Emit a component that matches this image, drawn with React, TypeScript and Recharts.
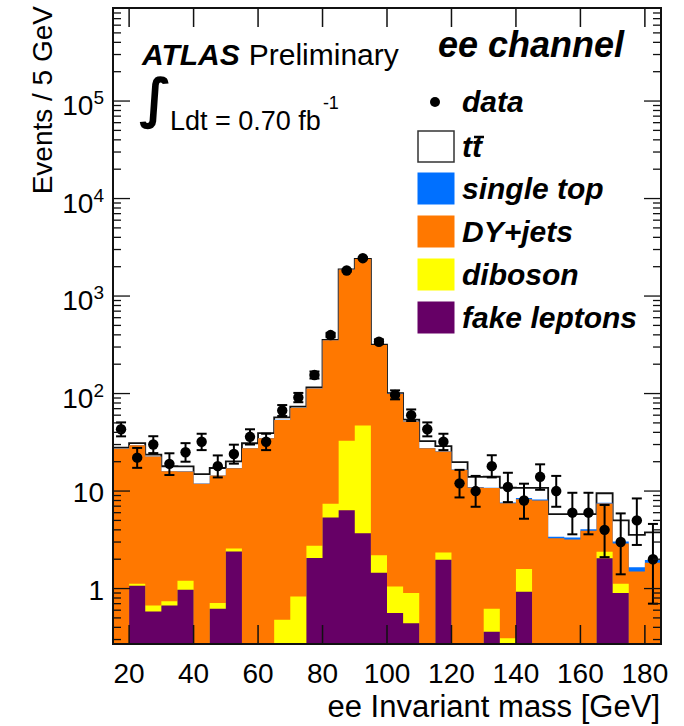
import React from "react";
import { ComposedChart, Area, Scatter, ErrorBar, XAxis, YAxis } from "recharts";

// ---- data (5 GeV bins, 15-185 GeV) ----
const binLow = [15, 20, 25, 30, 35, 40, 45, 50, 55, 60, 65, 70, 75, 80, 85, 90, 95, 100, 105, 110, 115, 120, 125, 130, 135, 140, 145, 150, 155, 160, 165, 170, 175, 180];
const binHighEnd = 185;

const fakeLeptons = [0, 1.07, 0.58, 0.67, 0.97, 0, 0.62, 2.4, 0, 0, 0, 0, 2.06, 5.34, 6.35, 3.7, 1.45, 0.56, 0.44, 0, 1.98, 0, 0, 0.36, 0, 0.93, 0, 0, 0, 0, 2.04, 0.9, 0, 0];
const diboson = [0, 0.05, 0.09, 0.07, 0.23, 0, 0.09, 0.18, 0, 0, 0.48, 0.83, 0.69, 2.06, 26.45, 43.3, 0.75, 0.49, 0.46, 0, 0.37, 0, 0, 0.26, 0.31, 0.66, 0, 0, 0, 0, 0.35, 0.22, 0, 0];
const dyJets = [27.2, 28.3, 21.9, 15.2, 14.7, 11.9, 13.7, 14.6, 27.5, 34.9, 53.2, 70.1, 109.9, 345.3, 1838.7, 2356.7, 312.4, 98.6, 50.8, 27.5, 23.15, 16.5, 10.9, 10.1, 7.2, 6.65, 8.0, 3.28, 3.19, 3.91, 5.08, 1.77, 1.5, 1.84];
const singleTop = [0.03, 0.03, 0.03, 0.03, 0.03, 0.03, 0.03, 0.03, 0.03, 0.03, 0.05, 0.05, 0.3, 0.3, 0.3, 0.3, 0.4, 0.4, 0.2, 0.1, 0.1, 0.1, 0.1, 0.1, 0.1, 0.25, 0.2, 0.12, 0.15, 0.15, 0.12, 0.15, 0.15, 0.12];
const ttbar = [0.7, 1.5, 1.0, 2.0, 2.0, 3.0, 2.8, 2.9, 3.4, 4.3, 3.2, 2.6, 3.0, 2.0, 3.0, 3.0, 3.0, 1.0, 2.1, 4.9, 3.3, 3.2, 3.0, 3.2, 3.2, 2.3, 2.6, 2.4, 2.46, 1.74, 1.9, 1.96, 1.9, 1.8];

const dataCounts = [43, 22, 30, 19, 25, 32, 18, 24, 36, 32, 67, 91, 155, 398, 1830, 2445, 340, 97, 60, 43, 32, 12, 10, 18, 11, 8, 14, 10, 6, 6, 4, 3, 5, 2];
const dataErrLow = [6.6, 4.7, 5.5, 4.4, 5, 5.7, 4.2, 4.9, 6, 5.7, 8.2, 9.5, 12.4, 20, 43, 49, 18.4, 9.8, 7.7, 6.6, 5.7, 3.4, 3.1, 4.2, 3.3, 2.8, 3.7, 3.1, 2.4, 2.4, 1.9, 1.6, 2.2, 1.3];
const dataErrHigh = [7.6, 5.7, 6.5, 5.4, 6, 6.7, 5.2, 5.9, 7, 6.7, 9.2, 10.5, 13.4, 21, 44, 50, 19.4, 10.8, 8.7, 7.6, 6.7, 4.5, 4.3, 5.3, 4.4, 3.9, 4.8, 4.3, 3.6, 3.6, 3.2, 2.9, 3.4, 2.6];

const xTicks = [20, 40, 60, 80, 100, 120, 140, 160, 180];
const yDecades = [1, 10, 100, 1000, 10000, 100000];
const yMinorMult = [2, 3, 4, 5, 6, 7, 8, 9];
const Y_MIN = 0.27;
const Y_MAX = 9e5;
const BIN_WIDTH = 5;

// ---- layout ----
const W = 684;
const H = 726;
const MARGIN = { top: 8, right: 23, bottom: 0, left: 0 };
const Y_AXIS_W = 113;
const X_AXIS_H = 82;
const PLOT_LEFT = MARGIN.left + Y_AXIS_W;
const PLOT_RIGHT = W - MARGIN.right;
const PLOT_TOP = MARGIN.top;
const PLOT_BOTTOM = H - MARGIN.bottom - X_AXIS_H;
const FONT = "'Liberation Sans', Arial, Helvetica, sans-serif";

const COLORS = {
  fake: "#660066",
  diboson: "#ffff00",
  dy: "#ff7800",
  singleTop: "#0070ff",
  ttbar: "#ffffff",
};

// ---- derived tables ----
const FLOOR = 0.01;
const pos = (v: number) => (v > 0 ? v : FLOOR);
const rowsCore = binLow.map((x, i) => {
  const cFake = fakeLeptons[i];
  const cDib = cFake + diboson[i];
  const cDy = cDib + dyJets[i];
  const cSt = cDy + singleTop[i];
  const cTot = cSt + ttbar[i];
  return { x, cFake: pos(cFake), cDib: pos(cDib), cDy: pos(cDy), cSt: pos(cSt), cTot: pos(cTot) };
});
const rows = [...rowsCore, { ...rowsCore[rowsCore.length - 1], x: binHighEnd }];

const points = binLow.map((x, i) => ({
  x: x + BIN_WIDTH / 2,
  count: dataCounts[i],
  err: [dataErrLow[i], dataErrHigh[i]],
}));

const yTicks: number[] = [0.3, 0.4, 0.5, 0.6, 0.7, 0.8, 0.9];
yDecades.forEach((d) => {
  yTicks.push(d);
  yMinorMult.forEach((m) => yTicks.push(d * m));
});

const isDecade = (v: number) => Math.abs(Math.log10(v) - Math.round(Math.log10(v))) < 1e-6;

const XTick = (props: any) => {
  const { x, y, payload } = props;
  return (
    <g>
      <line x1={x} x2={x} y1={y} y2={y - 19} stroke="#111" strokeWidth={1.5} />
      <line x1={x} x2={x} y1={PLOT_TOP} y2={PLOT_TOP + 19} stroke="#111" strokeWidth={1.5} />
      <text x={x} y={y + 39} textAnchor="middle" fontSize={28} fontFamily={FONT} fill="#000">
        {payload.value}
      </text>
    </g>
  );
};

const YTick = (props: any) => {
  const { x, y, payload } = props;
  const v = payload.value;
  const major = isDecade(v);
  const len = major ? 17 : 8;
  const exp = Math.round(Math.log10(v));
  let label: React.ReactNode = null;
  if (major) {
    if (exp <= 1) {
      label = (
        <text x={104} y={y + 11} textAnchor="end" fontSize={28} fontFamily={FONT} fill="#000">
          {exp === 0 ? "1" : "10"}
        </text>
      );
    } else {
      label = (
        <text x={104} y={y + 14} textAnchor="end" fontSize={28} fontFamily={FONT} fill="#000">
          10
          <tspan fontSize={19} dy={-11}>
            {exp}
          </tspan>
        </text>
      );
    }
  }
  return (
    <g>
      <line x1={x} x2={x + len} y1={y} y2={y} stroke="#111" strokeWidth={1.3} />
      <line x1={PLOT_RIGHT} x2={PLOT_RIGHT - len} y1={y} y2={y} stroke="#111" strokeWidth={1.3} />
      {label}
    </g>
  );
};

const Dot = (props: any) => {
  const { cx, cy } = props;
  if (cx == null || cy == null) return null;
  return <circle cx={cx} cy={cy} r={5.2} fill="#000" />;
};

const legendItems = [
  { label: "single top", fill: COLORS.singleTop },
  { label: "DY+jets", fill: COLORS.dy },
  { label: "diboson", fill: COLORS.diboson },
  { label: "fake leptons", fill: COLORS.fake },
];

export default function App() {
  return (
    <div style={{ position: "absolute", left: 0, top: 0, width: W, height: H, background: "#fff" }}>
      <div style={{ position: "absolute", left: 0, top: 0 }}>
        <ComposedChart width={W} height={H} data={rows} margin={MARGIN}>
          <Area type="stepAfter" dataKey="cTot" baseValue={Y_MIN} fill={COLORS.ttbar} fillOpacity={1} stroke="#111" strokeWidth={1.8} isAnimationActive={false} dot={false} activeDot={false} />
          <Area type="stepAfter" dataKey="cSt" baseValue={Y_MIN} fill={COLORS.singleTop} fillOpacity={1} stroke="none" isAnimationActive={false} dot={false} activeDot={false} />
          <Area type="stepAfter" dataKey="cDy" baseValue={Y_MIN} fill={COLORS.dy} fillOpacity={1} stroke="none" isAnimationActive={false} dot={false} activeDot={false} />
          <Area type="stepAfter" dataKey="cDib" baseValue={Y_MIN} fill={COLORS.diboson} fillOpacity={1} stroke="none" isAnimationActive={false} dot={false} activeDot={false} />
          <Area type="stepAfter" dataKey="cFake" baseValue={Y_MIN} fill={COLORS.fake} fillOpacity={1} stroke="none" isAnimationActive={false} dot={false} activeDot={false} />
          <XAxis
            dataKey="x"
            type="number"
            domain={[binLow[0], binHighEnd]}
            allowDataOverflow
            ticks={xTicks}
            interval={0}
            tick={<XTick />}
            tickLine={false}
            axisLine={false}
            tickSize={0}
            tickMargin={0}
            height={X_AXIS_H}
          />
          <YAxis
            type="number"
            scale="log"
            domain={[Y_MIN, Y_MAX]}
            allowDataOverflow
            ticks={yTicks}
            interval={0}
            tick={<YTick />}
            tickLine={false}
            axisLine={false}
            tickSize={0}
            tickMargin={0}
            width={Y_AXIS_W}
          />
          <Scatter data={points} dataKey="count" shape={<Dot />} isAnimationActive={false}>
            <ErrorBar dataKey="err" direction="y" width={5} strokeWidth={2} stroke="#000" />
          </Scatter>
        </ComposedChart>
      </div>
      <svg width={W} height={H} style={{ position: "absolute", left: 0, top: 0, pointerEvents: "none" }}>
        <rect x={PLOT_LEFT} y={PLOT_TOP} width={PLOT_RIGHT - PLOT_LEFT} height={PLOT_BOTTOM - PLOT_TOP} fill="none" stroke="#111" strokeWidth={2} />
        <text transform="translate(52,6) rotate(-90)" textAnchor="end" fontSize={28} fontFamily={FONT} fill="#000">
          Events / 5 GeV
        </text>
        <text x={660} y={717} textAnchor="end" fontSize={31} fontFamily={FONT} fill="#000">
          ee Invariant mass [GeV]
        </text>
        <text x={142} y={65} fontSize={30} fontFamily={FONT} fill="#000">
          <tspan fontWeight="bold" fontStyle="italic">ATLAS</tspan>
          <tspan dx={9}>Preliminary</tspan>
        </text>
        <text x={139} y={117} fontSize={54} fontWeight="bold" fontFamily="'DejaVu Sans', sans-serif" fill="#000">
          ∫
        </text>
        <text x={170} y={130} fontSize={27} fontFamily={FONT} fill="#000">
          Ldt = 0.70 fb
          <tspan fontSize={18} dx={2} dy={-21}>-1</tspan>
        </text>
        <text x={438} y={57} fontSize={36} fontWeight="bold" fontStyle="italic" fontFamily={FONT} fill="#000">
          ee channel
        </text>
        <circle cx={435} cy={102} r={5} fill="#000" />
        <text x={462} y={112} fontSize={30} fontWeight="bold" fontStyle="italic" fontFamily={FONT} fill="#000">
          data
        </text>
        <rect x={418} y={131} width={36} height={31} fill="#fff" stroke="#333" strokeWidth={1.5} />
        <text x={462} y={157} fontSize={30} fontWeight="bold" fontStyle="italic" fontFamily={FONT} fill="#000">
          tt
        </text>
        <line x1={474} x2={484} y1={137} y2={137} stroke="#000" strokeWidth={2.5} />
        {legendItems.map((it, i) => (
          <g key={it.label}>
            <rect x={418} y={173 + i * 43} width={36} height={31} fill={it.fill} stroke={it.fill} strokeWidth={1} />
            <text x={462} y={199 + i * 43} fontSize={30} fontWeight="bold" fontStyle="italic" fontFamily={FONT} fill="#000">
              {it.label}
            </text>
          </g>
        ))}
      </svg>
    </div>
  );
}
